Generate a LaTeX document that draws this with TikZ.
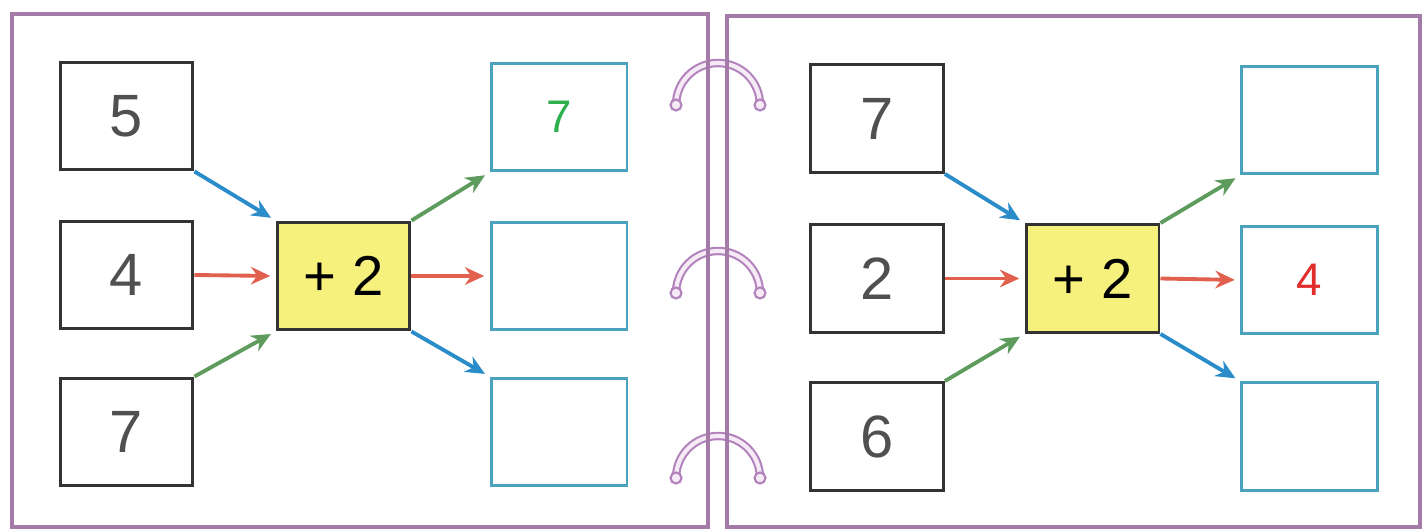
\documentclass[tikz,border=0pt]{standalone}
\usepackage{fontspec}
\setmainfont{Liberation Sans}
\usetikzlibrary{arrows.meta}
\definecolor{pagecol}{HTML}{A47AA8}
\definecolor{ringcol}{HTML}{B282BC}
\definecolor{ringfill}{HTML}{F6EAF6}
\definecolor{boxcol}{HTML}{333333}
\definecolor{numcol}{HTML}{505050}
\definecolor{anscol}{HTML}{4AA2BC}
\definecolor{opyellow}{HTML}{F6F07C}
\definecolor{arrblue}{HTML}{2A8CC8}
\definecolor{arrred}{HTML}{E2604E}
\definecolor{arrgreen}{HTML}{5E9C5E}
\definecolor{penred}{HTML}{E02C2C}
\definecolor{pengreen}{HTML}{2EB04E}

\begin{document}
\begin{tikzpicture}[x=0.02cm, y=-0.02cm,
    numbox/.style={draw=boxcol, line width=1.7pt, minimum width=2.66cm, minimum height=2.16cm,
      inner sep=0pt, text=numcol, font=\fontsize{34}{34}\selectfont},
    ansbox/.style={numbox, draw=anscol, minimum width=2.72cm, font=\fontsize{26}{26}\selectfont},
    opbox/.style={numbox, fill=opyellow, text=black, font=\fontsize{32}{32}\selectfont},
    arr/.style={line width=2.2pt, -{Stealth[length=11pt,width=10pt]}, shorten >=3pt},
    ring/.style={draw=ringcol, double=ringfill, double distance=2.4pt, line width=1.2pt},
    ringend/.style={draw=ringcol, fill=ringfill, line width=1.2pt},
    page/.style={draw=pagecol, line width=1.9pt}]
  \useasboundingbox (0,0) rectangle (1423,530);
  % rings
  \draw[ring] (676,105) arc[start angle=180, end angle=360, radius=42];
  \draw[ring] (676,293) arc[start angle=180, end angle=360, radius=42];
  \draw[ring] (676,478) arc[start angle=180, end angle=360, radius=42];
  \draw[ringend] (676,105) circle[radius=5.5];
  \draw[ringend] (760,105) circle[radius=5.5];
  \draw[ringend] (676,293) circle[radius=5.5];
  \draw[ringend] (760,293) circle[radius=5.5];
  \draw[ringend] (676,478) circle[radius=5.5];
  \draw[ringend] (760,478) circle[radius=5.5];
  % pages
  \draw[page] (12,14) rectangle (708,527);
  \draw[page] (727,16) rectangle (1420,527);
  % left page
  \node[numbox] (l-in1) at (126.5,116) {5};
  \node[numbox] (l-in2) at (126.5,275) {4};
  \node[numbox] (l-in3) at (126.5,432) {7};
  \node[opbox] (l-op) at (343.5,276) {+ 2};
  \node[ansbox, text=pengreen] (l-out1) at (559,117) {7};
  \node[ansbox] (l-out2) at (559,276) {};
  \node[ansbox] (l-out3) at (559,432) {};
  \draw[arr, arrblue] (l-in1.south east) -- (l-op.north west);
  \draw[arr, arrred] (l-in2.east) -- (l-op.west);
  \draw[arr, arrgreen] (l-in3.north east) -- (l-op.south west);
  \draw[arr, arrgreen] (l-op.north east) -- (l-out1.south west);
  \draw[arr, arrred] (l-op.east) -- (l-out2.west);
  \draw[arr, arrblue] (l-op.south east) -- (l-out3.north west);
  % right page
  \node[numbox] (r-in1) at (877,118.5) {7};
  \node[numbox] (r-in2) at (877,278.5) {2};
  \node[numbox] (r-in3) at (877,436.5) {6};
  \node[opbox] (r-op) at (1092.5,278.5) {+ 2};
  \node[ansbox] (r-out1) at (1309.5,120) {};
  \node[ansbox, text=penred] (r-out2) at (1309.5,280) {4};
  \node[ansbox] (r-out3) at (1309.5,436.5) {};
  \draw[arr, arrblue] (r-in1.south east) -- (r-op.north west);
  \draw[arr, arrred] (r-in2.east) -- (r-op.west);
  \draw[arr, arrgreen] (r-in3.north east) -- (r-op.south west);
  \draw[arr, arrgreen] (r-op.north east) -- (r-out1.south west);
  \draw[arr, arrred] (r-op.east) -- (r-out2.west);
  \draw[arr, arrblue] (r-op.south east) -- (r-out3.north west);
\end{tikzpicture}
\end{document}
